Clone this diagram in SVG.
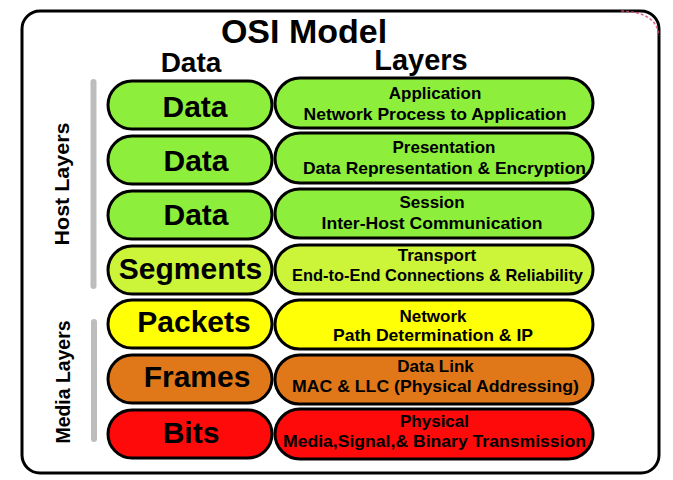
<svg xmlns="http://www.w3.org/2000/svg" width="673" height="480" viewBox="0 0 673 480">
<style>
.t{font-family:"Liberation Sans",Arial,sans-serif;font-weight:bold;fill:#000;text-anchor:middle}
.pl{stroke:#000;stroke-width:3}
.big{font-size:30px}
.sm{font-size:17px}
.side{font-family:"Liberation Sans",Arial,sans-serif;font-weight:bold;font-size:20px;fill:#000;text-anchor:middle}
.g1{fill:#8def3b}.g2{fill:#ccf53a}.g3{fill:#ffff05}.g4{fill:#e0781a}.g5{fill:#ff0a0a}
.bar{fill:#bdbdbd}
</style>
<rect width="673" height="480" fill="#fff"/>
<g id="frame">
<rect x="22" y="11" width="637" height="462" rx="18" fill="#fff" stroke="#000" stroke-width="3"/>
<path d="M621 11 Q657 12 659 36" fill="none" stroke="#d4407a" stroke-width="1.6" stroke-dasharray="3 2" opacity="0.8"/>
</g>
<g id="titles">
<text class="t" x="304" y="43" font-size="34">OSI Model</text>
<text class="t" x="191" y="72" font-size="28">Data</text>
<text class="t" x="421" y="70" font-size="29">Layers</text>
</g>
<g id="brackets">
<rect class="bar" x="90.5" y="79" width="6" height="210" rx="3"/>
<rect class="bar" x="91" y="319" width="6" height="123" rx="3"/>
<text class="side" transform="translate(69,184) rotate(-90)" textLength="123" lengthAdjust="spacingAndGlyphs">Host Layers</text>
<text class="side" transform="translate(70,382) rotate(-90)" textLength="123" lengthAdjust="spacingAndGlyphs">Media Layers</text>
</g>
<g id="connectors"></g>
<g id="layer7">
<rect class="pl g1" x="108" y="81" width="164" height="48" rx="24"/>
<text class="t big" x="195" y="117">Data</text>
<rect class="pl g1" x="275" y="78" width="318" height="50" rx="25"/>
<text class="t sm" x="435" y="99">Application</text>
<text class="t sm" x="435" y="120" textLength="263" lengthAdjust="spacingAndGlyphs">Network Process to Application</text>
</g>
<g id="layer6">
<rect class="pl g1" x="108" y="136" width="164" height="48" rx="24"/>
<text class="t big" x="196" y="171">Data</text>
<rect class="pl g1" x="275" y="133" width="318" height="50" rx="25"/>
<text class="t sm" x="444" y="153">Presentation</text>
<text class="t sm" x="444.5" y="174" textLength="283" lengthAdjust="spacingAndGlyphs">Data Representation &amp; Encryption</text>
</g>
<g id="layer5">
<rect class="pl g1" x="108" y="191" width="164" height="48" rx="24"/>
<text class="t big" x="196" y="225">Data</text>
<rect class="pl g1" x="275" y="189" width="318" height="49" rx="24.5"/>
<text class="t sm" x="432" y="208">Session</text>
<text class="t sm" x="432" y="229" textLength="221" lengthAdjust="spacingAndGlyphs">Inter-Host Communication</text>
</g>
<g id="layer4">
<rect class="pl g2" x="108" y="246" width="164" height="48" rx="24"/>
<text class="t big" x="190.5" y="279">Segments</text>
<rect class="pl g2" x="275" y="245" width="318" height="49" rx="24.5"/>
<text class="t sm" x="437" y="261">Transport</text>
<text class="t sm" x="437.5" y="281" textLength="291" lengthAdjust="spacingAndGlyphs">End-to-End Connections &amp; Reliability</text>
</g>
<g id="layer3">
<rect class="pl g3" x="108" y="300" width="164" height="48" rx="24"/>
<text class="t big" x="194" y="332">Packets</text>
<rect class="pl g3" x="275" y="300" width="318" height="49" rx="24.5"/>
<text class="t sm" x="433" y="322">Network</text>
<text class="t sm" x="433" y="341" textLength="200" lengthAdjust="spacingAndGlyphs">Path Determination &amp; IP</text>
</g>
<g id="layer2">
<rect class="pl g4" x="108" y="355" width="164" height="48" rx="24"/>
<text class="t big" x="197" y="387">Frames</text>
<rect class="pl g4" x="275" y="355" width="318" height="49" rx="24.5"/>
<text class="t sm" x="435.5" y="372">Data Link</text>
<text class="t sm" x="435.5" y="392" textLength="287" lengthAdjust="spacingAndGlyphs">MAC &amp; LLC (Physical Addressing)</text>
</g>
<g id="layer1">
<rect class="pl g5" x="108" y="410" width="164" height="48" rx="24"/>
<text class="t big" x="191" y="443">Bits</text>
<rect class="pl g5" x="275" y="409" width="318" height="50" rx="25"/>
<text class="t sm" x="434.5" y="427" fill="#300">Physical</text>
<text class="t sm" x="434.5" y="447" textLength="303" lengthAdjust="spacingAndGlyphs">Media,Signal,&amp; Binary Transmission</text>
</g>
</svg>
